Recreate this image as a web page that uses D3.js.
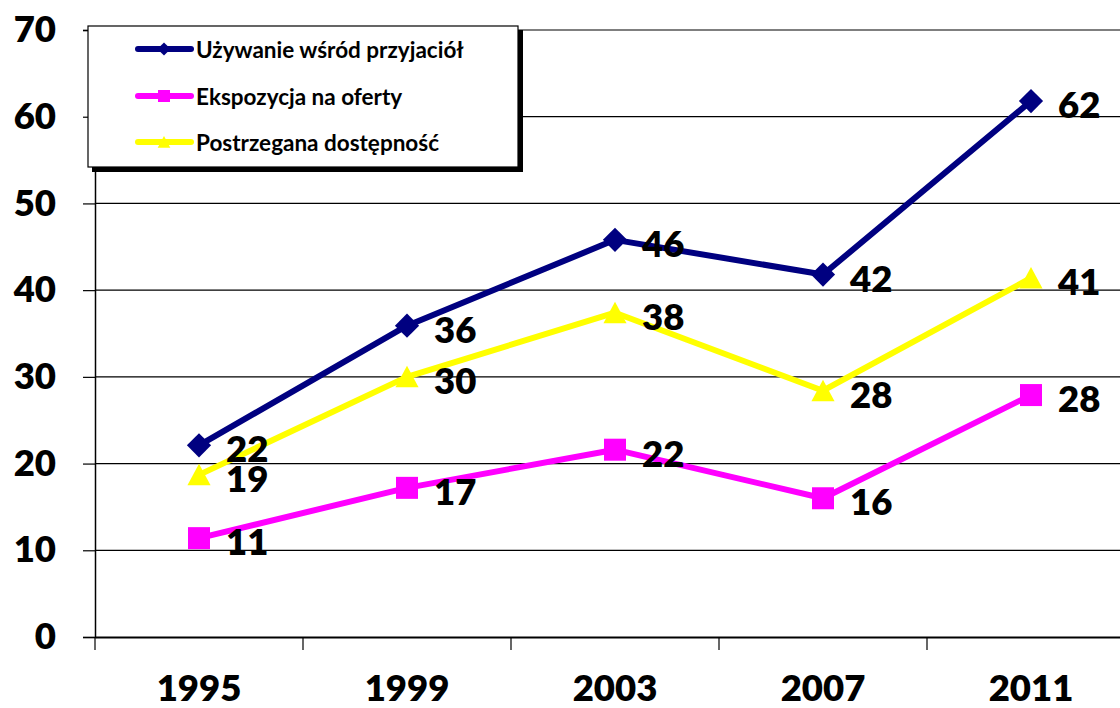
<!DOCTYPE html>
<html><head><meta charset="utf-8">
<script src="https://cdn.jsdelivr.net/npm/d3@7"></script>
<style>body{margin:0;background:#fff;} svg{display:block;font-family:Lato, "Open Sans", sans-serif;font-weight:700;}</style>
</head><body>
<svg id="c" width="1120" height="708"></svg>
<script>
const years = ["1995","1999","2003","2007","2011"];
const seriesNames = ["Używanie wśród przyjaciół","Ekspozycja na oferty","Postrzegana dostępność"];
const usage = [22.1, 35.9, 45.8, 41.8, 61.8];
const exposure = [11.4, 17.2, 21.6, 16.0, 27.9];
const availability = [18.7, 30.0, 37.4, 28.4, 41.4];
const usageLabels = ["22","36","46","42","62"];
const exposureLabels = ["11","17","22","16","28"];
const availabilityLabels = ["19","30","38","28","41"];
const yTicks = [0,10,20,30,40,50,60,70];

(function(){
const colors = ["#000080","#ff00ff","#ffff00"];
const shapes = ["diamond","square","triangle"];
const series = [
  {name: seriesNames[0], values: usage, labels: usageLabels, color: colors[0], shape: shapes[0]},
  {name: seriesNames[1], values: exposure, labels: exposureLabels, color: colors[1], shape: shapes[1]},
  {name: seriesNames[2], values: availability, labels: availabilityLabels, color: colors[2], shape: shapes[2]}
];
const FS = 36.5;

const svg = d3.select("#c");
const mLeft = 95, mRight = 1135, mTop = 30, mBottom = 637;
const x = d3.scaleBand().domain(years).range([mLeft, mRight]).padding(0);
const y = d3.scaleLinear().domain([0,70]).range([mBottom, mTop]);
const cx = d => x(d) + x.bandwidth()/2;

svg.append("g").selectAll("line").data(yTicks.filter(t=>t>0)).join("line")
  .attr("x1", mLeft).attr("x2", 1120).attr("y1", d=>y(d)).attr("y2", d=>y(d))
  .attr("stroke","#000").attr("stroke-width",1.2);

const ya = svg.append("g").attr("transform",`translate(${mLeft},0)`)
  .call(d3.axisLeft(y).tickValues(yTicks).tickSize(12).tickPadding(27).tickFormat(d3.format("d")));
ya.select(".domain").attr("stroke","#000").attr("stroke-width",1.5);
ya.selectAll(".tick line").attr("stroke","#000").attr("stroke-width",1.2);
ya.selectAll("text").attr("font-size",FS).attr("font-weight",800).attr("fill","#000").attr("font-family","Lato, sans-serif");

const xa = svg.append("g").attr("transform",`translate(0,${mBottom})`)
  .call(d3.axisBottom(x).tickSize(0).tickPadding(38));
xa.select(".domain").attr("stroke","#000").attr("stroke-width",2);
xa.selectAll("text").attr("font-size",FS).attr("font-weight",800).attr("fill","#000").attr("font-family","Lato, sans-serif");
svg.append("g").selectAll("line").data(years).join("line")
  .attr("x1", d=>x(d)).attr("x2", d=>x(d)).attr("y1", mBottom).attr("y2", mBottom+13)
  .attr("stroke","#000").attr("stroke-width",1.2);

function marker(g, shape, color, size) {
  if (shape === "diamond") {
    const s = size*0.55;
    g.append("path").attr("d", `M0,${-s}L${s},0L0,${s}L${-s},0Z`).attr("fill", color);
  } else if (shape === "square") {
    const s = size/2;
    g.append("rect").attr("x",-s).attr("y",-s).attr("width",size).attr("height",size).attr("fill",color);
  } else {
    const s = size/2;
    g.append("path").attr("d", `M0,${-s}L${s*1.05},${s*0.95}L${-s*1.05},${s*0.95}Z`).attr("fill", color);
  }
}

const line = d3.line().x((d,i)=>cx(years[i])).y(d=>y(d));
series.forEach(s => {
  svg.append("path").datum(s.values).attr("d", line).attr("fill","none")
    .attr("stroke", s.color).attr("stroke-width",6).attr("stroke-linejoin","round");
  s.values.forEach((v,i) => {
    const g = svg.append("g").attr("transform",`translate(${cx(years[i])},${y(v)})`);
    marker(g, s.shape, s.color, 22);
  });
});
series.forEach(s => {
  s.values.forEach((v,i) => {
    svg.append("text").attr("x", cx(years[i])+27).attr("y", y(v)+3)
      .attr("dominant-baseline","central").attr("font-size",FS).attr("font-weight",800)
      .attr("fill","#000").text(s.labels[i]);
  });
});

const lg = svg.append("g");
lg.append("rect").attr("x",92).attr("y",30).attr("width",431).attr("height",142).attr("fill","#000");
lg.append("rect").attr("x",88).attr("y",26).attr("width",430).attr("height",141).attr("fill","#fff").attr("stroke","#000").attr("stroke-width",1.2);
const rowsY = [49, 96, 142];
series.forEach((s,i) => {
  lg.append("line").attr("x1",138).attr("x2",191).attr("y1",rowsY[i]).attr("y2",rowsY[i])
    .attr("stroke",s.color).attr("stroke-width",6).attr("stroke-linecap","round");
  const g = lg.append("g").attr("transform",`translate(164,${rowsY[i]})`);
  marker(g, s.shape, s.color, 12);
  lg.append("text").attr("x",196).attr("y",rowsY[i]).attr("dominant-baseline","central")
    .attr("font-size",22.5).attr("font-weight",700).attr("fill","#000").text(s.name);
});
})();
</script>
</body></html>
